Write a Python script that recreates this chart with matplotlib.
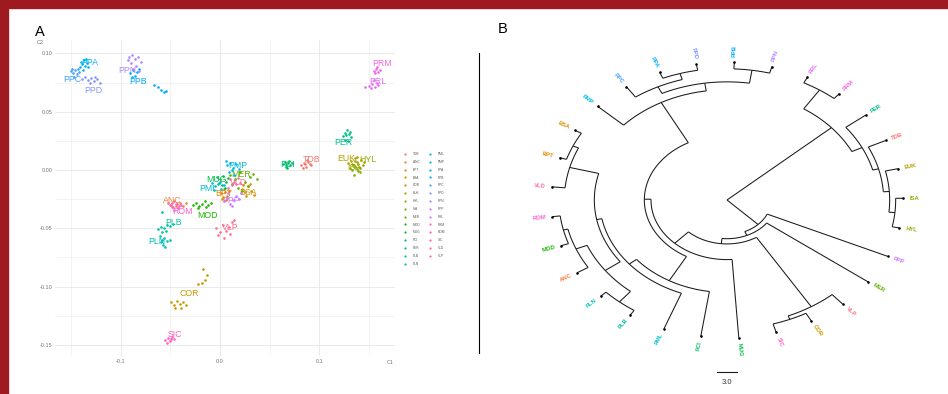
import numpy as np
import matplotlib
matplotlib.use("Agg")
import matplotlib.pyplot as plt
from matplotlib.lines import Line2D
from matplotlib.patches import Rectangle

plt.rcParams["font.family"] = ["Liberation Sans", "DejaVu Sans"]

# ---------------- panel A data (PCA-like scatter) ----------------
groups = ["TDB", "ANC", "BPT", "BSA", "COR", "EUK", "HYL", "ISA", "MER", "MOD",
          "MUG", "PCI", "PER", "PLB", "PLN", "PML", "PMP", "PPA", "PPB", "PPC",
          "PPD", "PPN", "PPP", "PRL", "PRM", "ROM", "SIC", "VLD", "VLP"]

points = {
    "TDB": [(0.082, 0.004), (0.085, 0.006), (0.087, 0.003), (0.089, 0.007), (0.091, 0.005),
            (0.084, 0.002), (0.088, 0.009), (0.092, 0.004), (0.086, 0.005)],
    "ANC": [(-0.052, -0.028), (-0.049, -0.030), (-0.046, -0.027), (-0.043, -0.029), (-0.040, -0.028),
            (-0.037, -0.031), (-0.034, -0.028), (-0.048, -0.032), (-0.044, -0.031)],
    "BPT": [(0.001, -0.020), (0.003, -0.023), (0.005, -0.019), (0.007, -0.022), (0.002, -0.025),
            (0.009, -0.018), (0.004, -0.016), (0.006, -0.026)],
    "BSA": [(0.022, -0.016), (0.025, -0.019), (0.028, -0.014), (0.031, -0.018), (0.034, -0.021),
            (0.026, -0.022), (0.030, -0.012), (0.023, -0.013)],
    "COR": [(-0.049, -0.113), (-0.046, -0.116), (-0.043, -0.112), (-0.040, -0.115), (-0.037, -0.113),
            (-0.034, -0.116), (-0.045, -0.118), (-0.039, -0.118), (-0.022, -0.098), (-0.018, -0.097),
            (-0.015, -0.094), (-0.013, -0.090), (-0.017, -0.085)],
    "EUK": [(0.129, 0.006), (0.132, 0.008), (0.135, 0.004), (0.138, 0.007), (0.131, 0.002),
            (0.136, 0.010), (0.140, 0.003), (0.133, 0.005)],
    "HYL": [(0.136, 0.008), (0.139, 0.005), (0.142, 0.009), (0.144, 0.004), (0.138, 0.011),
            (0.141, 0.002), (0.145, 0.007)],
    "ISA": [(0.133, 0.000), (0.136, 0.003), (0.139, -0.001), (0.135, -0.004), (0.138, 0.001),
            (0.141, -0.002), (0.134, 0.004)],
    "MER": [(0.010, -0.004), (0.015, -0.008), (0.020, -0.002), (0.025, -0.010), (0.030, -0.006),
            (0.037, -0.008), (0.012, -0.012), (0.018, -0.015), (0.028, -0.014), (0.033, -0.003),
            (0.022, -0.018)],
    "MOD": [(-0.027, -0.030), (-0.024, -0.028), (-0.021, -0.031), (-0.018, -0.029), (-0.015, -0.027),
            (-0.012, -0.030), (-0.009, -0.028), (-0.022, -0.033), (-0.014, -0.032)],
    "MUG": [(-0.003, -0.006), (0.000, -0.008), (0.003, -0.005), (0.006, -0.010), (0.002, -0.013),
            (-0.001, -0.011), (0.008, -0.007), (0.005, -0.015)],
    "PCI": [(0.063, 0.005), (0.065, 0.007), (0.067, 0.003), (0.069, 0.006), (0.071, 0.004),
            (0.073, 0.006), (0.066, 0.004), (0.070, 0.008), (0.068, 0.002)],
    "PER": [(0.124, 0.029), (0.126, 0.032), (0.128, 0.034), (0.130, 0.031), (0.132, 0.028),
            (0.129, 0.025), (0.126, 0.026), (0.131, 0.033), (0.127, 0.030)],
    "PLB": [(-0.062, -0.051), (-0.059, -0.049), (-0.056, -0.050), (-0.053, -0.047), (-0.050, -0.048),
            (-0.047, -0.046), (-0.058, -0.053), (-0.054, -0.052), (-0.058, -0.036)],
    "PLN": [(-0.060, -0.057), (-0.058, -0.060), (-0.056, -0.058), (-0.053, -0.061), (-0.050, -0.060),
            (-0.057, -0.064), (-0.055, -0.066), (-0.059, -0.062)],
    "PML": [(-0.008, -0.011), (-0.005, -0.014), (-0.002, -0.012), (0.001, -0.016), (0.004, -0.013),
            (-0.006, -0.017), (0.000, -0.010)],
    "PMP": [(0.007, 0.004), (0.010, 0.006), (0.013, 0.002), (0.016, 0.005), (0.019, 0.001),
            (0.009, -0.002), (0.014, -0.004), (0.006, 0.008), (0.012, 0.000)],
    "PPA": [(-0.141, 0.088), (-0.139, 0.091), (-0.137, 0.094), (-0.136, 0.089), (-0.134, 0.092),
            (-0.138, 0.086), (-0.135, 0.095), (-0.140, 0.093), (-0.133, 0.088)],
    "PPB": [(-0.091, 0.083), (-0.088, 0.086), (-0.086, 0.081), (-0.084, 0.084), (-0.089, 0.080),
            (-0.082, 0.087), (-0.066, 0.073), (-0.062, 0.071), (-0.059, 0.069), (-0.056, 0.067),
            (-0.054, 0.068)],
    "PPC": [(-0.150, 0.085), (-0.148, 0.083), (-0.146, 0.086), (-0.144, 0.082), (-0.142, 0.084),
            (-0.147, 0.080), (-0.149, 0.087), (-0.143, 0.087)],
    "PPD": [(-0.139, 0.078), (-0.136, 0.080), (-0.133, 0.077), (-0.130, 0.079), (-0.127, 0.076),
            (-0.124, 0.078), (-0.121, 0.075), (-0.131, 0.075), (-0.126, 0.080)],
    "PPN": [(-0.092, 0.097), (-0.089, 0.099), (-0.086, 0.095), (-0.083, 0.097), (-0.090, 0.092),
            (-0.080, 0.093), (-0.085, 0.089), (-0.088, 0.087), (-0.082, 0.085), (-0.093, 0.094)],
    "PPP": [(0.004, -0.027), (0.007, -0.024), (0.010, -0.029), (0.013, -0.026), (0.016, -0.022),
            (0.019, -0.025), (0.012, -0.031), (0.008, -0.020), (0.021, -0.020)],
    "PRL": [(0.150, 0.072), (0.153, 0.074), (0.156, 0.071), (0.158, 0.075), (0.155, 0.077),
            (0.152, 0.070), (0.159, 0.073), (0.146, 0.071)],
    "PRM": [(0.155, 0.085), (0.157, 0.087), (0.159, 0.084), (0.161, 0.086), (0.158, 0.088),
            (0.156, 0.083)],
    "ROM": [(-0.050, -0.030), (-0.047, -0.032), (-0.044, -0.029), (-0.041, -0.031), (-0.046, -0.034),
            (-0.042, -0.033), (-0.048, -0.028), (-0.039, -0.030)],
    "SIC": [(-0.055, -0.146), (-0.052, -0.144), (-0.050, -0.147), (-0.048, -0.143), (-0.046, -0.145),
            (-0.053, -0.148), (-0.049, -0.145)],
    "VLD": [(0.010, -0.008), (0.014, -0.010), (0.018, -0.007), (0.012, -0.013), (0.016, -0.012),
            (0.020, -0.011), (0.008, -0.015)],
    "VLP": [(-0.004, -0.050), (0.000, -0.053), (0.003, -0.047), (0.006, -0.052), (0.009, -0.049),
            (0.012, -0.045), (0.014, -0.043), (0.004, -0.058), (-0.002, -0.056), (0.010, -0.055)],
}

label_pos = {
    "TDB": (0.092, 0.009), "ANC": (-0.048, -0.026), "BPT": (0.004, -0.020), "BSA": (0.028, -0.019),
    "COR": (-0.031, -0.106), "EUK": (0.127, 0.010), "HYL": (0.149, 0.009), "ISA": (0.135, 0.002),
    "MER": (0.021, -0.004), "MOD": (-0.013, -0.039), "MUG": (-0.004, -0.008), "PCI": (0.068, 0.005),
    "PER": (0.124, 0.024), "PLB": (-0.047, -0.045), "PLN": (-0.064, -0.061), "PML": (-0.012, -0.016),
    "PMP": (0.018, 0.004), "PPA": (-0.131, 0.092), "PPB": (-0.083, 0.076), "PPC": (-0.149, 0.078),
    "PPD": (-0.128, 0.068), "PPN": (-0.093, 0.085), "PPP": (0.011, -0.026), "PRL": (0.159, 0.076),
    "PRM": (0.163, 0.091), "ROM": (-0.038, -0.036), "SIC": (-0.045, -0.141), "VLD": (0.019, -0.011),
    "VLP": (0.010, -0.049),
}

x_ticks = [-0.1, 0.0, 0.1]
y_ticks = [-0.15, -0.10, -0.05, 0.00, 0.05, 0.10]

# ---------------- panel B data (UPGMA tree) ----------------
tip_order = ["PRL", "PRM", "PER", "TDB", "EUK", "ISA", "HYL", "PPP", "MER", "VLP",
             "COR", "SIC", "MUG", "PCI", "PML", "PLB", "PLN", "ANC", "MOD", "ROM",
             "VLD", "BPT", "BSA", "PMP", "PPC", "PPA", "PPD", "PPB", "PPN"]

clade_children = {
    "root": ("X", "Q1"), "X": ("PRLPRM", "Y2"), "PRLPRM": ("PRL", "PRM"),
    "Y2": ("PER", "Z1"), "Z1": ("TDB", "Z2"), "Z2": ("EUK", "Z3"), "Z3": ("ISA", "HYL"),
    "Q1": ("PPP", "Q2"), "Q2": ("MER", "Q3"), "Q3": ("W", "Q3b"),
    "W": ("VLP", "CS"), "CS": ("COR", "SIC"),
    "Q3b": ("MUG", "Q4"), "Q4": ("P8", "PP"),
    "P8": ("PCI", "P7"), "P7": ("PML", "P6"), "P6": ("P5", "BBV"),
    "P5": ("PLBN", "RMA"), "PLBN": ("PLB", "PLN"), "RMA": ("ANC", "RM"), "RM": ("MOD", "ROM"),
    "BBV": ("VLD", "BB"), "BB": ("BPT", "BSA"),
    "PP": ("PMP", "PP2"), "PP2": ("CAD", "PBN"), "CAD": ("PPC", "PAD"),
    "PAD": ("PPA", "PPD"), "PBN": ("PPB", "PPN"),
}

clade_height = {
    "root": 26.4, "X": 5.5, "PRLPRM": 1.2, "Y2": 3.8, "Z1": 2.9, "Z2": 2.0, "Z3": 1.1,
    "Q1": 19.8, "Q2": 19.0, "Q3": 18.0, "W": 2.4, "CS": 1.7, "Q3b": 15.0, "Q4": 14.0,
    "P8": 8.7, "P7": 7.3, "P6": 6.5, "P5": 3.7, "PLBN": 1.1, "RMA": 1.9, "RM": 1.2,
    "BBV": 2.0, "BB": 1.1, "PP": 5.3, "PP2": 3.8, "CAD": 2.4, "PAD": 1.2, "PBN": 1.3,
}
scale_bar = 3.0


def hue_pal(n, l=65, c=100):
    # ggplot2 default discrete palette (HCL -> sRGB)
    hues = np.linspace(15, 375, n + 1)[:-1]
    xn, yn, zn = 0.95047, 1.0, 1.08883
    un = 4 * xn / (xn + 15 * yn + 3 * zn)
    vn = 9 * yn / (xn + 15 * yn + 3 * zn)
    Y = ((l + 16) / 116) ** 3
    out = []
    for h in hues:
        u = c * np.cos(np.radians(h))
        v = c * np.sin(np.radians(h))
        up = u / (13 * l) + un
        vp = v / (13 * l) + vn
        X = Y * 9 * up / (4 * vp)
        Z = Y * (12 - 3 * up - 20 * vp) / (4 * vp)
        r = 3.2404542 * X - 1.5371385 * Y - 0.4985314 * Z
        g = -0.9692660 * X + 1.8760108 * Y + 0.0415560 * Z
        b = 0.0556434 * X - 0.2040259 * Y + 1.0572252 * Z
        rgb = []
        for ch in (r, g, b):
            ch = ch * 12.92 if ch <= 0.0031308 else 1.055 * ch ** (1 / 2.4) - 0.055
            rgb.append(min(max(ch, 0), 1))
        out.append(tuple(rgb))
    return out


colors = dict(zip(groups, hue_pal(len(groups))))

W_PX, H_PX = 948, 394
fig = plt.figure(figsize=(W_PX / 100, H_PX / 100), dpi=100)
fig.patch.set_facecolor("white")

# red frame strips
fig.patches.append(Rectangle((0, 1 - 8 / H_PX), 1, 8 / H_PX, transform=fig.transFigure,
                             color="#9e1a1e", zorder=10))
fig.patches.append(Rectangle((0, 0), 8 / W_PX, 1, transform=fig.transFigure,
                             color="#9e1a1e", zorder=10))

# ---------------- panel A ----------------
axA = fig.add_axes([55 / W_PX, 1 - 356 / H_PX, 340 / W_PX, 316 / H_PX])
axA.set_xlim(-0.1662, 0.1763)
axA.set_ylim(-0.1595, 0.1115)
for s in axA.spines.values():
    s.set_visible(False)
axA.set_xticks(x_ticks)
axA.set_xticklabels(["-0.1", "0.0", "0.1"])
axA.set_yticks(y_ticks)
axA.set_yticklabels(["-0.15", "-0.10", "-0.05", "0.00", "0.05", "0.10"])
axA.set_xticks([-0.15, -0.05, 0.05, 0.15], minor=True)
axA.set_yticks([-0.125, -0.075, -0.025, 0.025, 0.075], minor=True)
axA.tick_params(which="both", length=0, labelsize=4, labelcolor="#777777", pad=2)
axA.grid(True, which="major", color="#e6e6e6", lw=0.6)
axA.grid(True, which="minor", color="#efefef", lw=0.5)
axA.set_axisbelow(True)

for g in groups:
    xy = np.array(points[g])
    axA.scatter(xy[:, 0], xy[:, 1], s=3.5, color=colors[g], lw=0, zorder=3)
    lx, ly = label_pos[g]
    axA.text(lx, ly, g, color=colors[g], fontsize=6.3, ha="center", va="center", zorder=2)

fig.text(390 / W_PX, 1 - 363 / H_PX, "C1", fontsize=4, color="#777777", ha="center", va="center")
fig.text(40 / W_PX, 1 - 43 / H_PX, "C2", fontsize=4, color="#777777", ha="center", va="center")
fig.text(40 / W_PX, 1 - 32 / H_PX, "A", fontsize=10.5, ha="center", va="center")

handles = [Line2D([], [], ls="", marker="o", ms=1.6, mew=0, color=colors[g]) for g in groups]
fig.legend(handles, groups, ncol=2, loc="upper left", bbox_to_anchor=(403 / W_PX, 1 - 152 / H_PX),
           frameon=False, fontsize=2.3, handlelength=1.0, handletextpad=2.0, columnspacing=2.6,
           labelspacing=1.2, borderpad=0, borderaxespad=0, labelcolor="#555555")

# ---------------- panel B ----------------
R = clade_height["root"]
cx, cy, rx, ry = 727, 200, 176, 138
left, right, top, bottom = 479, 940, 53, 353
axB = fig.add_axes([left / W_PX, 1 - bottom / H_PX, (right - left) / W_PX, (bottom - top) / H_PX])
axB.set_xlim(-(cx - left) / rx * R, (right - cx) / rx * R)
axB.set_ylim(-(bottom - cy) / ry * R, (cy - top) / ry * R)
for k, s in axB.spines.items():
    s.set_visible(k == "left")
axB.spines["left"].set_linewidth(0.8)
axB.set_xticks([])
axB.set_yticks([])
axB.patch.set_alpha(0)

n_tips = len(tip_order)
start_angle = 62.8
angle = {t: start_angle - i * 360 / n_tips for i, t in enumerate(tip_order)}
radius = {t: R for t in tip_order}


def place(node):
    if node in angle:
        return angle[node]
    a = np.mean([place(ch) for ch in clade_children[node]])
    angle[node] = a
    radius[node] = R - clade_height[node]
    return a


place("root")

lc = "#1a1a1a"
lw = 0.75
for node, kids in clade_children.items():
    r0 = radius[node]
    a_k = [angle[k] for k in kids]
    if r0 > 0:
        th = np.radians(np.linspace(min(a_k), max(a_k), 80))
        axB.plot(r0 * np.cos(th), r0 * np.sin(th), color=lc, lw=lw, solid_capstyle="butt")
    for k in kids:
        t = np.radians(angle[k])
        axB.plot([r0 * np.cos(t), radius[k] * np.cos(t)], [r0 * np.sin(t), radius[k] * np.sin(t)],
                 color=lc, lw=lw, solid_capstyle="butt")

tip_th = np.radians([angle[t] for t in tip_order])
axB.scatter(R * np.cos(tip_th), R * np.sin(tip_th), s=3.5, color="black", lw=0, zorder=4)

for t in tip_order:
    a = (angle[t] + 180) % 360 - 180
    th = np.radians(a)
    rl = R * 1.035
    if -90 <= a <= 90:
        rot, ha = a, "left"
    else:
        rot, ha = a + 180, "right"
    axB.text(rl * np.cos(th), rl * np.sin(th), t, color=colors[t], fontsize=4.2, fontweight="bold",
             rotation=rot, ha=ha, va="center", rotation_mode="anchor", transform_rotates_text=True)

# scale bar
yb = -(372 - cy) / ry * R
xb = (717 - cx) / rx * R
axB.plot([xb, xb + scale_bar], [yb, yb], color=lc, lw=0.8, clip_on=False)
axB.text(xb + scale_bar / 2, yb - 0.05 * R, f"{scale_bar:.1f}", fontsize=5.5, color="#333333",
         ha="center", va="top", clip_on=False)

fig.text(503 / W_PX, 1 - 29 / H_PX, "B", fontsize=10.5, ha="center", va="center")

fig.savefig("out.png", dpi=100)
